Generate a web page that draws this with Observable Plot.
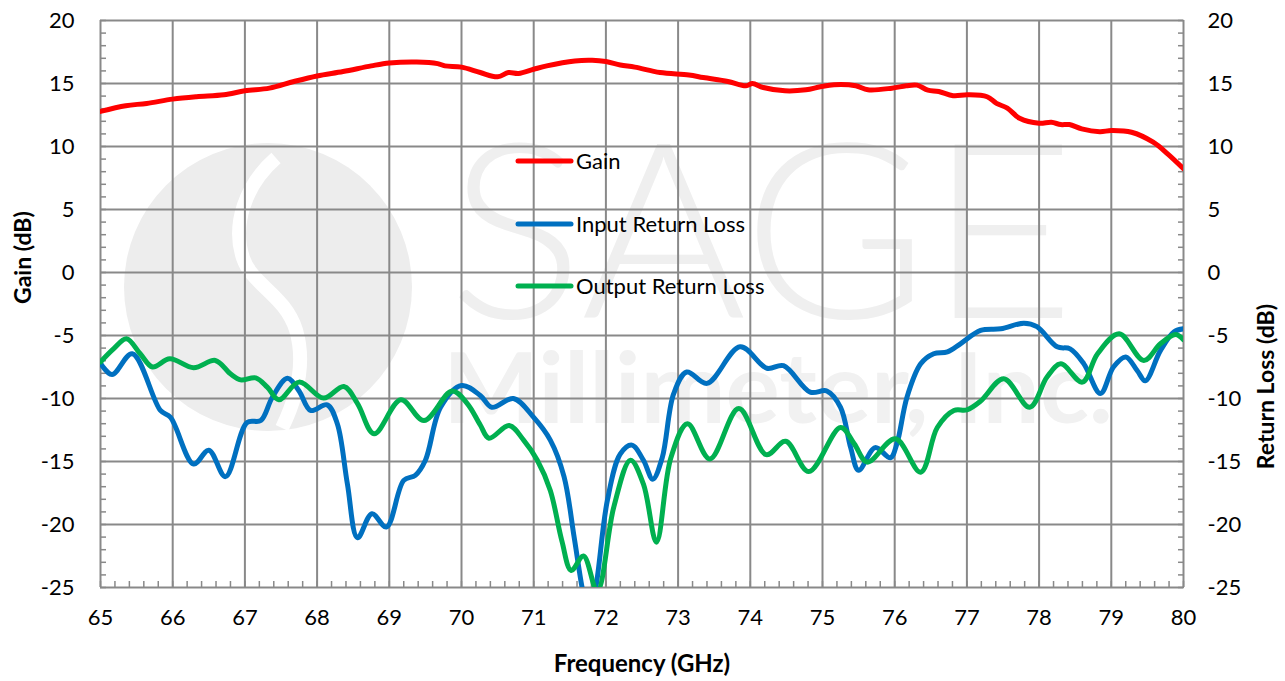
<!DOCTYPE html>
<html>
<head>
<meta charset="utf-8">
<script src="https://cdn.jsdelivr.net/npm/d3@7"></script>
<script src="https://cdn.jsdelivr.net/npm/@observablehq/plot@0.6"></script>
<style>
  body { margin: 0; background: #fff; font-family: Lato, "Open Sans", sans-serif; }
  #wrap { position: relative; width: 1285px; height: 681px; }
  #wm, #legend { position: absolute; left: 0; top: 0; }
  #wm { z-index: 0; }
  #chart { position: absolute; left: 0; top: 0; z-index: 1; }
  #legend { z-index: 2; }
</style>
</head>
<body>
<div id="wrap">
  <svg id="wm" width="1285" height="681">
    <circle cx="268" cy="287" r="144" fill="#ededed"/>
    <path d="M276,158 C245,185 232,225 243,258 C252,285 285,295 296,330 C305,360 298,395 282,428" fill="none" stroke="#ffffff" stroke-width="14"/>
    <text x="448" y="318" font-family="Lato" font-weight="300" font-size="245" fill="#efefef" textLength="627" lengthAdjust="spacingAndGlyphs">SAGE</text>
    <text x="443" y="423" font-family="Lato" font-weight="700" font-size="98" fill="#f1f1f1" textLength="670" lengthAdjust="spacingAndGlyphs">Millimeter, Inc.</text>
  </svg>
  <div id="chart"></div>
  <svg id="legend" width="1285" height="681"></svg>
</div>
<script>
// ---- data ----
const gainFreq = [65,65.35,65.64,66,66.33,66.71,67,67.34,67.68,68,68.36,68.75,69,69.38,69.67,69.77,70,70.26,70.5,70.65,70.79,71,71.18,71.57,71.81,72,72.2,72.4,72.75,73.15,73.35,73.69,73.94,74.03,74.18,74.48,74.77,74.97,75.16,75.46,75.63,75.96,76.16,76.31,76.46,76.61,76.81,77.01,77.28,77.41,77.56,77.73,78,78.17,78.3,78.42,78.59,78.84,79,79.28,79.58,79.78,80];
const gainDb = [12.79,13.24,13.42,13.76,13.95,14.1,14.42,14.63,15.16,15.6,15.95,16.4,16.63,16.71,16.58,16.4,16.3,15.87,15.53,15.87,15.8,16.13,16.4,16.79,16.84,16.74,16.47,16.3,15.87,15.68,15.47,15.16,14.82,15.0,14.68,14.42,14.5,14.74,14.9,14.82,14.5,14.63,14.82,14.87,14.47,14.37,14.03,14.1,13.95,13.42,13.05,12.24,11.84,11.92,11.74,11.74,11.4,11.18,11.26,11.13,10.34,9.42,8.24];

const inFreq = [65,65.16,65.44,65.83,65.97,66.29,66.5,66.73,67.03,67.22,67.38,67.59,67.75,67.91,68.14,68.28,68.42,68.56,68.76,68.96,69.2,69.36,69.5,69.71,70.0,70.26,70.42,70.72,71.0,71.23,71.42,71.56,71.67,71.76,71.86,72.02,72.2,72.36,72.52,72.65,72.78,72.94,73.12,73.4,73.86,74.23,74.46,74.83,75.06,75.25,75.39,75.5,75.73,75.94,76.03,76.17,76.36,76.54,76.73,76.91,77.19,77.47,77.79,77.97,78.25,78.43,78.62,78.85,79.03,79.2,79.36,79.47,79.68,79.87,80];
const inDb = [-7.2,-8.1,-6.45,-10.95,-11.5,-15.2,-14.1,-16.2,-11.9,-11.75,-9.9,-8.4,-9.4,-10.95,-10.5,-12,-16.8,-21.05,-19.15,-20.2,-16.5,-16.1,-14.9,-10.7,-8.97,-9.76,-10.7,-10.0,-11.5,-13.3,-16.2,-21,-25,-27.5,-25,-18.1,-14.4,-13.7,-14.9,-16.4,-14.7,-9.6,-7.9,-8.8,-5.9,-7.6,-7.4,-9.5,-9.4,-10.7,-13.9,-15.7,-13.9,-14.7,-13.6,-9.9,-7.25,-6.45,-6.3,-5.66,-4.6,-4.47,-4.02,-4.3,-5.9,-6.06,-7.25,-9.6,-7.5,-6.7,-7.8,-8.6,-6.2,-4.7,-4.47];

const outFreq = [65,65.18,65.36,65.55,65.72,65.96,66.29,66.59,66.8,66.94,67.15,67.31,67.47,67.75,68.09,68.37,68.56,68.79,69.16,69.48,69.87,70.08,70.26,70.38,70.66,70.86,71.05,71.23,71.39,71.52,71.69,71.88,72.11,72.34,72.52,72.7,72.9,73.13,73.44,73.84,74.22,74.49,74.81,75.25,75.44,75.62,76.01,76.36,76.59,76.82,77.0,77.19,77.51,77.87,78.11,78.3,78.6,78.81,79.11,79.45,79.68,79.89,80];
const outDb = [-7.1,-6.06,-5.26,-6.45,-7.5,-6.85,-7.56,-6.98,-8.04,-8.52,-8.36,-9.1,-10.1,-8.7,-9.97,-9.05,-10.4,-12.8,-10.1,-11.75,-9.4,-10.4,-12.1,-13.15,-12.15,-13.3,-14.9,-17.3,-21.3,-23.65,-22.5,-25.3,-18.6,-14.9,-16.8,-21.4,-14.7,-12.0,-14.8,-10.8,-14.45,-13.4,-15.8,-12.3,-13.6,-15.05,-13.2,-15.85,-12.3,-10.95,-10.9,-10.2,-8.44,-10.7,-8.3,-7.25,-8.7,-6.45,-4.87,-6.98,-5.66,-4.92,-5.34];

const seriesNames = ["Gain", "Input Return Loss", "Output Return Loss"];
const seriesColors = ["#ff0000", "#0070c0", "#00b050"];

const xMajor = d3.range(65, 81, 1);
const xMinor = d3.range(65, 80.001, 0.2).map(v => +v.toFixed(1));
const yMajor = d3.range(-25, 21, 5);
const yMinor = d3.range(-25, 21, 1);

// ---- build table ----
const rows = [];
gainFreq.forEach((f, i) => rows.push({f, v: gainDb[i], s: seriesNames[0]}));
inFreq.forEach((f, i) => rows.push({f, v: inDb[i], s: seriesNames[1]}));
outFreq.forEach((f, i) => rows.push({f, v: outDb[i], s: seriesNames[2]}));

const gridColor = "#898989";
const font = "Lato, 'Open Sans', sans-serif";

const plot = Plot.plot({
  width: 1285,
  height: 681,
  marginLeft: 100,
  marginRight: 102,
  marginTop: 20,
  marginBottom: 94,
  style: {background: "transparent", fontFamily: font, color: "#000"},
  x: {domain: [65, 80]},
  y: {domain: [-25, 20]},
  color: {domain: seriesNames, range: seriesColors},
  marks: [
    Plot.gridX(xMajor, {stroke: gridColor, strokeOpacity: 1, strokeWidth: 2}),
    Plot.gridY(yMajor, {stroke: gridColor, strokeOpacity: 1, strokeWidth: 2}),
    Plot.axisX(xMinor, {anchor: "bottom", tickSize: -6, text: null, label: null, stroke: gridColor, strokeWidth: 1.5}),
    Plot.axisY(yMinor, {anchor: "left", tickSize: -6, text: null, label: null, stroke: gridColor, strokeWidth: 1.5}),
    Plot.axisY(yMinor, {anchor: "right", tickSize: -6, text: null, label: null, stroke: gridColor, strokeWidth: 1.5}),
    Plot.axisX(xMajor, {anchor: "bottom", tickSize: 0, tickPadding: 22, fontSize: 22, label: null, tickFormat: d => String(d)}),
    Plot.axisY(yMajor, {anchor: "left", tickSize: 0, tickPadding: 26, fontSize: 22, label: null, tickFormat: d => String(d)}),
    Plot.axisY(yMajor, {anchor: "right", tickSize: 0, tickPadding: 24, fontSize: 22, label: null, tickFormat: d => String(d)}),
    Plot.line(rows, {x: "f", y: "v", z: "s", stroke: "s", strokeWidth: 5, curve: "catmull-rom", clip: true}),
    Plot.text(["Frequency (GHz)"], {frameAnchor: "bottom", dy: 84, fontSize: 24, fontWeight: "bold"}),
    Plot.text(["Gain (dB)"], {frameAnchor: "left", dx: -77, rotate: -90, fontSize: 23, fontWeight: "bold"}),
    Plot.text(["Return Loss (dB)"], {frameAnchor: "right", dx: 83, rotate: -90, fontSize: 23, fontWeight: "bold"})
  ]
});
document.getElementById("chart").appendChild(plot);

// ---- legend ----
const leg = d3.select("#legend");
const legY = [161, 224, 286];
seriesNames.forEach((name, i) => {
  leg.append("line").attr("x1", 518).attr("x2", 571).attr("y1", legY[i]).attr("y2", legY[i])
    .attr("stroke", seriesColors[i]).attr("stroke-width", 5).attr("stroke-linecap", "round");
  leg.append("text").attr("x", 576).attr("y", legY[i]).attr("dy", "0.35em")
    .attr("font-family", "Lato, 'Open Sans', sans-serif").attr("font-size", 22).attr("fill", "#000").text(name);
});
</script>
</body>
</html>
